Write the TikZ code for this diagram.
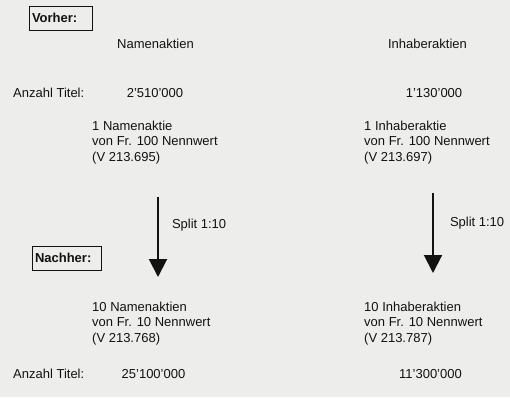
\documentclass[tikz,border=0pt]{standalone}
\usepackage{fontspec}
\setmainfont{Liberation Sans}
\usetikzlibrary{arrows.meta,positioning}
\definecolor{papier}{RGB}{237,237,236}
\definecolor{tinte}{RGB}{18,18,18}

\tikzset{
  txt/.style={inner sep=0pt, text=tinte},
  block/.style={txt, anchor=west, align=left},
  kasten/.style={draw=tinte, line width=0.9pt, text=tinte, font=\fontsize{13}{15}\selectfont\bfseries,
                 inner xsep=3pt, inner ysep=0pt, minimum height=24pt, align=left},
  pfeil/.style={draw=tinte, line width=2pt, -{Triangle[width=18pt,length=18pt]}}
}

\begin{document}
\begin{tikzpicture}[x=1pt,y=-1pt,font=\fontsize{13}{15.6}\selectfont,node distance=272pt,on grid]
            \fill[papier] (0,0) rectangle (510,397);

            \node[kasten, text width=57pt]    (vorher) at (60.5,18) {Vorher:};
            \node[kasten, text width=63pt]    (nachher) at (66.5,258) {Nachher:};

            \node[txt]    (n_kopf) at (155.5,44) {Namenaktien};
            \node[txt]    (i_kopf) [right of =n_kopf] {Inhaberaktien};

            \node[txt, anchor=west]    (anz_alt) at (13,93) {Anzahl Titel:};
            \node[txt]    (n_anz_alt) at (155,93) {2'510'000};
            \node[txt]    (i_anz_alt) at (434,93) {1'130'000};

            \node[block]    (n_alt) at (92,142.5) {1 Namenaktie\\von Fr. 100 Nennwert\\(V 213.695)};
            \node[block]    (i_alt) at (364,142.5) {1 Inhaberaktie\\von Fr. 100 Nennwert\\(V 213.697)};

            \node[block]    (n_neu) at (92,323.5) {10 Namenaktien\\von Fr. 10 Nennwert\\(V 213.768)};
            \node[block]    (i_neu) at (364,323.5) {10 Inhaberaktien\\von Fr. 10 Nennwert\\(V 213.787)};

            \node[txt, anchor=west]    (anz_neu) at (13,374) {Anzahl Titel:};
            \node[txt]    (n_anz_neu) at (153.5,374) {25'100'000};
            \node[txt]    (i_anz_neu) at (430.5,374) {11'300'000};

            \coordinate (n_von) at (158,197);
            \coordinate (n_nach) at (158,277);
            \coordinate (i_von) at (433,193);
            \coordinate (i_nach) at (433,273);

            \draw[pfeil] (n_von) -- (n_nach)
                 node[txt, pos=.35, anchor=west, xshift=13pt] (n_split) {Split 1:10};
            \draw[pfeil] (i_von) -- (i_nach)
                 node[txt, pos=.375, anchor=west, xshift=16pt] (i_split) {Split 1:10};
    \end{tikzpicture}
\end{document}
